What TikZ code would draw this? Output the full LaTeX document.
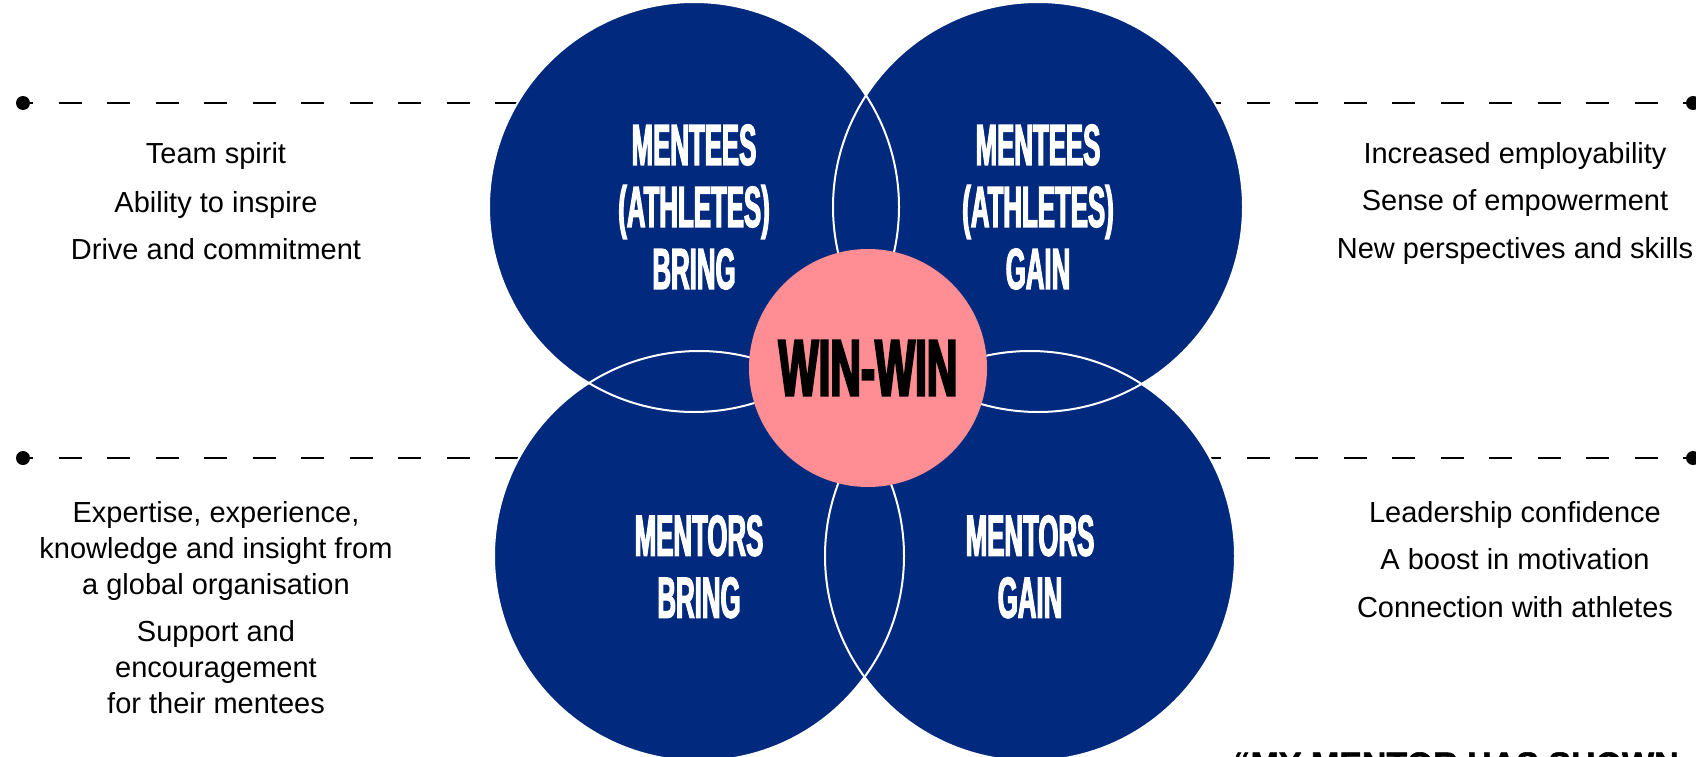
\documentclass[tikz,border=0pt]{standalone}
\usepackage{fontspec}
\setmainfont{Liberation Sans}
\newfontfamily\headfont{Liberation Sans}[FakeStretch=0.445,FakeBold=2]
\newfontfamily\winfont{Liberation Sans}[FakeStretch=0.53,FakeBold=2.5]
\newfontfamily\quotefont{Liberation Sans}[FakeBold=1.5]
\definecolor{deepblue}{RGB}{1,41,126}
\definecolor{rosepink}{RGB}{254,141,148}
\tikzset{
  bubble/.style={circle,fill=deepblue,minimum size=410pt,inner sep=0pt,text=white,align=center,font=\headfont\bfseries\fontsize{58}{62}\selectfont},
  rim/.style={draw=white,line width=2pt},
  stud/.style={circle,fill=black,minimum size=14pt,inner sep=0pt},
  trail/.style={line width=2pt,dash pattern=on 23pt off 25.5pt,dash phase=13pt},
  perk/.style={align=center,anchor=base,font=\fontsize{29}{36}\selectfont}
}
\begin{document}
\begin{tikzpicture}[x=1pt,y=-1pt]
\useasboundingbox (0,0) rectangle (1696,757);
\clip (0,0) rectangle (1696,757);
\foreach \y/\n in {103/1,458/2} {\node[stud] (dl\n) at (23,\y) {}; \node[stud] (dr\n) at (1693,\y) {}; \coordinate (el\n) at (640,\y); \coordinate (er\n) at (1100,\y); \draw[trail] (dl\n.center) -- (el\n); \draw[trail] (dr\n.center) -- (er\n);}
\node[bubble] (mb) at (694,207) {MENTEES\\(ATHLETES)\\BRING};
\node[bubble] (mg) at (1038,207) {MENTEES\\(ATHLETES)\\GAIN};
\node[bubble] (tb) at (699,556) {\\[0pt]MENTORS\\BRING};
\node[bubble] (tg) at (1030,556) {\\[0pt]MENTORS\\GAIN};
\foreach \n in {mb,mg,tb,tg} {\draw[rim] (\n.center) circle [radius=205pt];}
\node[circle,fill=rosepink,minimum size=238pt,inner sep=0pt,font=\winfont\bfseries\fontsize{80}{80}\selectfont] (win) at (868,368) {WIN-WIN};
\foreach \t/\y [count=\i] in {Team spirit/163,Ability to inspire/212,Drive and commitment/259} {\node[perk] (mbi\i) at (216,\y) {\t};}
\node[perk] (tbi1) at (216,594) {Expertise, experience,\\knowledge and insight from\\a global organisation};
\node[perk] (tbi2) at (216,713) {Support and\\encouragement\\for their mentees};
\foreach \t/\y [count=\i] in {Increased employability/163,Sense of empowerment/210,New perspectives and skills/258} {\node[perk] (mgi\i) at (1515,\y) {\t};}
\foreach \t/\y [count=\i] in {Leadership confidence/522,A boost in motivation/569,Connection with athletes/617} {\node[perk] (tgi\i) at (1515,\y) {\t};}
\node[anchor=base west,font=\quotefont\bfseries\fontsize{34}{40}\selectfont] (quote) at (1230,776) {“MY MENTOR HAS SHOWN};
\end{tikzpicture}
\end{document}
